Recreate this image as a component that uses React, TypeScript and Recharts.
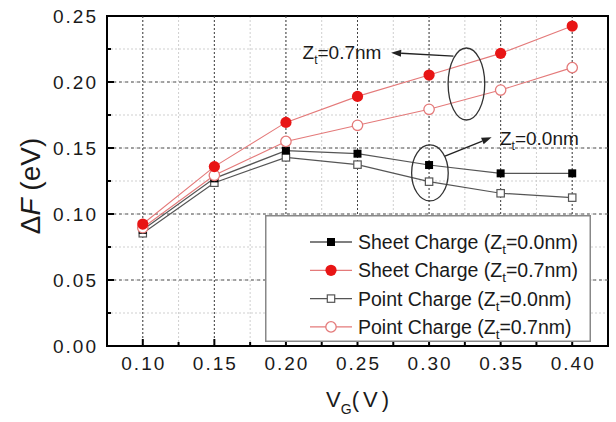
import {
  ComposedChart,
  Line,
  XAxis,
  YAxis,
  CartesianGrid,
  ReferenceLine,
  ReferenceArea,
  ReferenceDot,
  Legend,
} from "recharts";

const vg = [0.1, 0.15, 0.2, 0.25, 0.3, 0.35, 0.4];
const sheet00 = [0.088, 0.127, 0.148, 0.1457, 0.1371, 0.1308, 0.1308];
const sheet07 = [0.0924, 0.1359, 0.1694, 0.1891, 0.2053, 0.2217, 0.2424];
const point00 = [0.0854, 0.1237, 0.1429, 0.1374, 0.1245, 0.1157, 0.1124];
const point07 = [0.0896, 0.1293, 0.155, 0.1672, 0.1793, 0.1939, 0.2109];

const xTicks = [0.075, 0.1, 0.125, 0.15, 0.175, 0.2, 0.225, 0.25, 0.275, 0.3, 0.325, 0.35, 0.375, 0.4, 0.425];
const xMajor = [0.1, 0.15, 0.2, 0.25, 0.3, 0.35, 0.4];
const yTicks = [0, 0.025, 0.05, 0.075, 0.1, 0.125, 0.15, 0.175, 0.2, 0.225, 0.25];
const yMajor = [0, 0.05, 0.1, 0.15, 0.2, 0.25];
const yMajorGrid = [0.05, 0.1, 0.15, 0.2];

const RED = "#e81515";
const RED_LINE = "#e47a7a";
const GREY = "#555";

type Kind = "fsquare" | "fcircle" | "osquare" | "ocircle";

const series: { key: string; label: string; zt: string; line: string; kind: Kind }[] = [
  { key: "s0", label: "Sheet Charge (Z", zt: "=0.0nm)", line: GREY, kind: "fsquare" },
  { key: "s7", label: "Sheet Charge (Z", zt: "=0.7nm)", line: RED_LINE, kind: "fcircle" },
  { key: "p0", label: "Point Charge (Z", zt: "=0.0nm)", line: GREY, kind: "osquare" },
  { key: "p7", label: "Point Charge (Z", zt: "=0.7nm)", line: RED_LINE, kind: "ocircle" },
];

const rows = vg.map((v, i) => ({
  v,
  s0: sheet00[i],
  s7: sheet07[i],
  p0: point00[i],
  p7: point07[i],
}));

function Marker({ kind, cx, cy }: { kind: Kind; cx: number; cy: number }) {
  if (kind === "fsquare") return <rect x={cx - 4} y={cy - 4} width={8} height={8} fill="#000" />;
  if (kind === "osquare")
    return <rect x={cx - 3.7} y={cy - 3.7} width={7.4} height={7.4} fill="#fff" stroke={GREY} strokeWidth={1.2} />;
  if (kind === "fcircle") return <circle cx={cx} cy={cy} r={5.6} fill={RED} />;
  return <circle cx={cx} cy={cy} r={5.2} fill="#fff" stroke={RED_LINE} strokeWidth={1.3} />;
}

const isMajorX = (v: number) => xMajor.includes(v);
const isMajorY = (v: number) => yMajor.includes(v);

function BottomTick({ x, y, payload }: any) {
  const major = isMajorX(payload.value);
  return (
    <g>
      <line x1={x} x2={x} y1={y} y2={y - (major ? 7 : 4)} stroke="#000" strokeWidth={2} />
      {major && (
        <text x={x + 1} y={y + 24} textAnchor="middle" fontSize={19} letterSpacing={2} fill="#1a1a1a">
          {payload.value.toFixed(2)}
        </text>
      )}
    </g>
  );
}

function TopTick({ x, y, payload }: any) {
  const major = isMajorX(payload.value);
  return <line x1={x} x2={x} y1={y} y2={y + (major ? 7 : 4)} stroke="#000" strokeWidth={2} />;
}

function LeftTick({ x, y, payload }: any) {
  const major = isMajorY(payload.value);
  return (
    <g>
      <line x1={x} x2={x + (major ? 7 : 4)} y1={y} y2={y} stroke="#000" strokeWidth={2} />
      {major && (
        <text x={x - 9} y={y + 7} textAnchor="end" fontSize={19} letterSpacing={2} fill="#1a1a1a">
          {payload.value.toFixed(2)}
        </text>
      )}
    </g>
  );
}

function RightTick({ x, y, payload }: any) {
  const major = isMajorY(payload.value);
  return <line x1={x} x2={x - (major ? 7 : 4)} y1={y} y2={y} stroke="#000" strokeWidth={2} />;
}

function ArrowShape(p: any) {
  const { x1, y1, x2, y2 } = p;
  const ang = Math.atan2(y2 - y1, x2 - x1);
  const L = 10;
  const W = 3.5;
  const bx = x2 - L * Math.cos(ang);
  const by = y2 - L * Math.sin(ang);
  const pts = [
    [x2, y2],
    [bx + W * Math.sin(ang), by - W * Math.cos(ang)],
    [bx - W * Math.sin(ang), by + W * Math.cos(ang)],
  ]
    .map((q) => q.join(","))
    .join(" ");
  return (
    <g>
      <line x1={x1} y1={y1} x2={bx} y2={by} stroke="#222" strokeWidth={1.3} />
      <polygon points={pts} fill="#222" />
    </g>
  );
}

function ZtLabel(text: string) {
  return (p: any) => (
    <text x={p.cx} y={p.cy} fontSize={19} fill="#1a1a1a">
      Z
      <tspan fontSize={12} dy={5}>
        t
      </tspan>
      <tspan dy={-5}>{text}</tspan>
    </text>
  );
}

function EllipseShape(rx: number, ry: number) {
  return (p: any) => (
    <ellipse cx={p.cx} cy={p.cy} rx={rx} ry={ry} fill="none" stroke="#333" strokeWidth={1.3} />
  );
}

function LegendBox() {
  return (
    <svg width={326} height={127} style={{ display: "block" }}>
      <rect x={0.75} y={0.75} width={324.5} height={125.5} fill="#fff" stroke="#888" strokeWidth={1.5} />
      {series.map((s, i) => {
        const cy = 27 + i * 28.3;
        return (
          <g key={s.key}>
            <line x1={45} x2={87} y1={cy} y2={cy} stroke={s.line} strokeWidth={1.3} />
            <Marker kind={s.kind} cx={66} cy={cy} />
            <text x={93} y={cy + 7} fontSize={19.5} fill="#1a1a1a">
              {s.label}
              <tspan fontSize={13.5} dy={5}>
                t
              </tspan>
              <tspan dy={-5}>{s.zt}</tspan>
            </text>
          </g>
        );
      })}
    </svg>
  );
}

export default function App() {
  return (
    <div
      style={{
        position: "absolute",
        left: 0,
        top: 0,
        width: 616,
        height: 422,
        background: "#fff",
        fontFamily: "'Liberation Sans', Arial, sans-serif",
      }}
    >
      <ComposedChart width={616} height={422} data={rows} margin={{ top: 16, right: 8, left: 0, bottom: 0 }}>
        <CartesianGrid stroke="#cfcfcf" strokeDasharray="2 2" />
        <XAxis
          dataKey="v"
          type="number"
          domain={[0.075, 0.425]}
          ticks={xTicks}
          interval={0}
          height={76}
          tickSize={0}
          tickMargin={0}
          axisLine={false}
          tick={<BottomTick />}
          label={{
            content: (props: any) => {
              const vb = props.viewBox;
              return (
                <text x={vb.x + vb.width / 2 + 2} y={vb.y + 61} textAnchor="middle" fontSize={22} fill="#1a1a1a">
                  V
                  <tspan fontSize={14} dy={7}>
                    G
                  </tspan>
                  <tspan dy={-7} letterSpacing={4}>
                    (V)
                  </tspan>
                </text>
              );
            },
          }}
        />
        <XAxis
          xAxisId="top"
          orientation="top"
          dataKey="v"
          type="number"
          domain={[0.075, 0.425]}
          ticks={xTicks}
          interval={0}
          height={0}
          tickSize={0}
          tickMargin={0}
          axisLine={false}
          tick={<TopTick />}
        />
        <YAxis
          type="number"
          domain={[0, 0.25]}
          ticks={yTicks}
          interval={0}
          width={107}
          tickSize={0}
          tickMargin={0}
          axisLine={false}
          tick={<LeftTick />}
          label={{
            content: (props: any) => {
              const vb = props.viewBox;
              const cx = vb.x + 30;
              const cy = vb.y + vb.height / 2 + 5;
              return (
                <text
                  x={cx}
                  y={cy}
                  transform={`rotate(-90 ${cx} ${cy})`}
                  textAnchor="middle"
                  dominantBaseline="central"
                  fontSize={28}
                  fill="#1a1a1a"
                >
                  Δ<tspan fontStyle="italic">F</tspan> (eV)
                </text>
              );
            },
          }}
        />
        <YAxis
          yAxisId="right"
          orientation="right"
          type="number"
          domain={[0, 0.25]}
          ticks={yTicks}
          interval={0}
          width={0}
          tickSize={0}
          tickMargin={0}
          axisLine={false}
          tick={<RightTick />}
        />

        {xMajor.map((v) => (
          <ReferenceLine key={`gx${v}`} x={v} stroke="#444" strokeDasharray="2 2" strokeWidth={1} />
        ))}
        {yMajorGrid.map((v) => (
          <ReferenceLine key={`gy${v}`} y={v} stroke="#555" strokeDasharray="3 3" strokeWidth={1} />
        ))}

        <Line
          dataKey="p0"
          stroke={GREY}
          strokeWidth={1.2}
          isAnimationActive={false}
          activeDot={false}
          dot={(p: any) => <Marker key={`p0${p.index}`} kind="osquare" cx={p.cx} cy={p.cy} />}
        />
        <Line
          dataKey="s0"
          stroke={GREY}
          strokeWidth={1.2}
          isAnimationActive={false}
          activeDot={false}
          dot={(p: any) => <Marker key={`s0${p.index}`} kind="fsquare" cx={p.cx} cy={p.cy} />}
        />
        <Line
          dataKey="p7"
          stroke={RED_LINE}
          strokeWidth={1.1}
          isAnimationActive={false}
          activeDot={false}
          dot={(p: any) => <Marker key={`p7${p.index}`} kind="ocircle" cx={p.cx} cy={p.cy} />}
        />
        <Line
          dataKey="s7"
          stroke={RED_LINE}
          strokeWidth={1.1}
          isAnimationActive={false}
          activeDot={false}
          dot={(p: any) => <Marker key={`s7${p.index}`} kind="fcircle" cx={p.cx} cy={p.cy} />}
        />

        <ReferenceDot x={0.3261} y={0.1985} r={1} shape={EllipseShape(18.3, 36)} />
        <ReferenceDot x={0.3006} y={0.1311} r={1} shape={EllipseShape(18.3, 28)} />
        <ReferenceLine
          segment={[
            { x: 0.317, y: 0.2196 },
            { x: 0.2735, y: 0.2222 },
          ]}
          shape={ArrowShape}
        />
        <ReferenceLine
          segment={[
            { x: 0.3111, y: 0.1439 },
            { x: 0.3437, y: 0.1581 },
          ]}
          shape={ArrowShape}
        />
        <ReferenceDot x={0.2116} y={0.2172} r={1} shape={ZtLabel("=0.7nm")} />
        <ReferenceDot x={0.3495} y={0.1523} r={1} shape={ZtLabel("=0.0nm")} />

        <ReferenceArea
          x1={0.075}
          x2={0.425}
          y1={0}
          y2={0.25}
          fill="none"
          stroke="#000"
          strokeWidth={2}
          ifOverflow="visible"
        />

        <Legend
          layout="vertical"
          align="center"
          verticalAlign="middle"
          wrapperStyle={{ left: 265, top: 215, width: 326, height: 127 }}
          content={() => <LegendBox />}
        />
      </ComposedChart>
    </div>
  );
}
